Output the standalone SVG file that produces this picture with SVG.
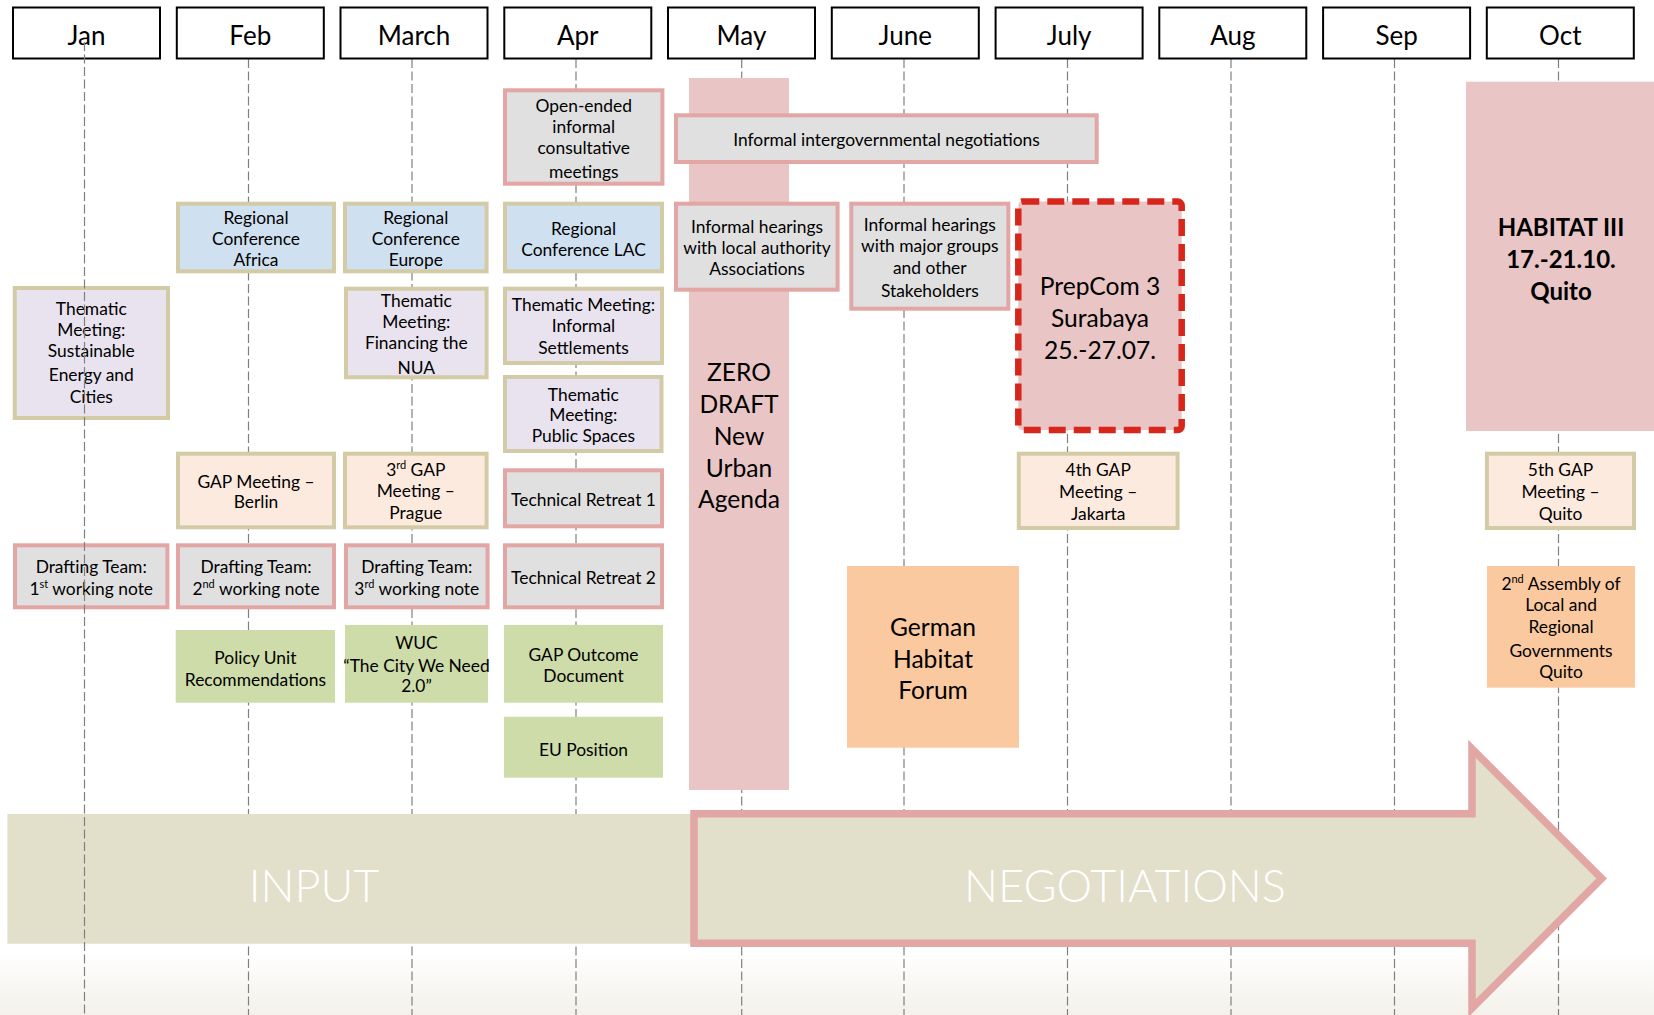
<svg xmlns="http://www.w3.org/2000/svg" width="1654" height="1015" viewBox="0 0 1654 1015">
<defs>
<linearGradient id="bg" x1="0" y1="0" x2="0" y2="1">
<stop offset="0" stop-color="#ffffff"/>
<stop offset="1" stop-color="#f3f1ea"/>
</linearGradient>
<style>
.t{font-family:Lato,"Open Sans","Liberation Sans",sans-serif;fill:#000;text-anchor:middle}
.s{font-size:17.4px}
.m{font-size:24.6px}
.hd{font-size:26px}
.zd{font-size:24.6px}
.big{font-size:45px;font-weight:300;fill:#fff}
.bold{font-weight:bold;font-size:24px}
.sup{font-size:11px}
.hdr{fill:#fff;stroke:#000;stroke-width:2}
.grey{fill:#e0e0e0;stroke:#e2a6a5;stroke-width:4}
.blue{fill:#cfe0f1;stroke:#d3cba5;stroke-width:4}
.lav{fill:#e8e3ee;stroke:#d3cba5;stroke-width:4}
.peach{fill:#fdeade;stroke:#d3cba5;stroke-width:4}
.green{fill:#cddca8}
.orange{fill:#fac9a0}
.pink{fill:#eac5c5}
.grid{stroke:#808080;stroke-width:1.2;stroke-dasharray:9 3.5;fill:none}
</style>
</defs>
<rect x="0" y="0" width="1654" height="1015" fill="#fff"/>
<rect x="0" y="950" width="1654" height="65" fill="url(#bg)"/>

<g id="timeline-lines">
<line class="grid" x1="248.5" y1="59" x2="248.5" y2="1015"/>
<line class="grid" x1="412" y1="59" x2="412" y2="1015"/>
<line class="grid" x1="576" y1="59" x2="576" y2="1015"/>
<line class="grid" x1="741.7" y1="59" x2="741.7" y2="1015"/>
<line class="grid" x1="904" y1="59" x2="904" y2="1015"/>
<line class="grid" x1="1067.5" y1="59" x2="1067.5" y2="1015"/>
<line class="grid" x1="1231" y1="59" x2="1231" y2="1015"/>
<line class="grid" x1="1394.5" y1="59" x2="1394.5" y2="1015"/>
<line class="grid" x1="1558.5" y1="59" x2="1558.5" y2="1015"/>
</g>

<g id="input-band">
<rect x="7.4" y="814" width="690" height="129.7" fill="#e2dfcb"/>
<text class="t big" x="314" y="902">INPUT</text>
</g>
<g id="negotiations-arrow">
<polygon points="694,813.7 1472,813.7 1472,748.8 1601.7,878.5 1472,1008.2 1472,943.3 694,943.3" fill="#e2dfcb" stroke="#e2a6a5" stroke-width="7.5"/>
<text class="t big" x="1125" y="902">NEGOTIATIONS</text>
</g>

<g id="months">
<g id="m-jan"><rect class="hdr" x="13" y="7.5" width="147" height="51"/><text class="t hd" x="86.5" y="44.5">Jan</text></g>
<g id="m-feb"><rect class="hdr" x="176.8" y="7.5" width="147" height="51"/><text class="t hd" x="250.3" y="44.5">Feb</text></g>
<g id="m-mar"><rect class="hdr" x="340.5" y="7.5" width="147" height="51"/><text class="t hd" x="414" y="44.5">March</text></g>
<g id="m-apr"><rect class="hdr" x="504.3" y="7.5" width="147" height="51"/><text class="t hd" x="577.8" y="44.5">Apr</text></g>
<g id="m-may"><rect class="hdr" x="668" y="7.5" width="147" height="51"/><text class="t hd" x="741.5" y="44.5">May</text></g>
<g id="m-jun"><rect class="hdr" x="831.8" y="7.5" width="147" height="51"/><text class="t hd" x="905.3" y="44.5">June</text></g>
<g id="m-jul"><rect class="hdr" x="995.6" y="7.5" width="147" height="51"/><text class="t hd" x="1069.1" y="44.5">July</text></g>
<g id="m-aug"><rect class="hdr" x="1159.3" y="7.5" width="147" height="51"/><text class="t hd" x="1232.8" y="44.5">Aug</text></g>
<g id="m-sep"><rect class="hdr" x="1323.1" y="7.5" width="147" height="51"/><text class="t hd" x="1396.6" y="44.5">Sep</text></g>
<g id="m-oct"><rect class="hdr" x="1486.8" y="7.5" width="147" height="51"/><text class="t hd" x="1560.3" y="44.5">Oct</text></g>
</g>

<g id="zero-draft">
<rect class="pink" x="689" y="78" width="100" height="712"/>
<text class="t zd" x="739" y="381">ZERO</text>
<text class="t zd" x="739" y="412.5">DRAFT</text>
<text class="t zd" x="739" y="444.5">New</text>
<text class="t zd" x="739" y="476.5">Urban</text>
<text class="t zd" x="739" y="508">Agenda</text>
</g>

<g id="open-ended">
<rect class="grey" x="505" y="90.3" width="157.4" height="93.4"/>
<text class="t s" x="583.7" y="111.5">Open-ended</text>
<text class="t s" x="583.7" y="132.6">informal</text>
<text class="t s" x="583.7" y="153.7">consultative</text>
<text class="t s" x="583.7" y="178">meetings</text>
</g>

<g id="intergov">
<rect class="grey" x="676" y="115.3" width="420.7" height="46.7"/>
<text class="t s" x="886.5" y="145.7">Informal intergovernmental negotiations</text>
</g>

<g id="rc-africa">
<rect class="blue" x="178" y="203.7" width="156" height="67.6"/>
<text class="t s" x="256" y="224">Regional</text>
<text class="t s" x="256" y="245">Conference</text>
<text class="t s" x="256" y="266">Africa</text>
</g>
<g id="rc-europe">
<rect class="blue" x="345" y="203.7" width="141.6" height="67.6"/>
<text class="t s" x="415.8" y="224">Regional</text>
<text class="t s" x="415.8" y="245">Conference</text>
<text class="t s" x="415.8" y="266">Europe</text>
</g>
<g id="rc-lac">
<rect class="blue" x="505" y="203.7" width="157" height="67.6"/>
<text class="t s" x="583.5" y="235">Regional</text>
<text class="t s" x="583.5" y="256">Conference LAC</text>
</g>

<g id="hearings-local">
<rect class="grey" x="676" y="203.7" width="161.6" height="86"/>
<text class="t s" x="757" y="233">Informal hearings</text>
<text class="t s" x="757" y="254">with local authority</text>
<text class="t s" x="757" y="274.5">Associations</text>
</g>
<g id="hearings-major">
<rect class="grey" x="851.3" y="203.7" width="157" height="105"/>
<text class="t s" x="929.8" y="230.5">Informal hearings</text>
<text class="t s" x="929.8" y="252">with major groups</text>
<text class="t s" x="929.8" y="273.5">and other</text>
<text class="t s" x="929.8" y="297">Stakeholders</text>
</g>

<g id="prepcom">
<rect x="1018.3" y="201.6" width="163.4" height="228.4" rx="4" fill="#eac5c5" stroke="#d7261b" stroke-width="6.5" stroke-dasharray="17 8"/>
<text class="t m" x="1100" y="295">PrepCom 3</text>
<text class="t m" x="1100" y="327">Surabaya</text>
<text class="t m" x="1100" y="359">25.-27.07.</text>
</g>

<g id="habitat">
<rect class="pink" x="1466" y="81.7" width="190" height="349.3"/>
<text class="t bold" x="1561" y="235.7">HABITAT III</text>
<text class="t bold" x="1561" y="268">17.-21.10.</text>
<text class="t bold" x="1561" y="300">Quito</text>
</g>

<g id="tm-energy">
<rect class="lav" x="14.7" y="288" width="153.3" height="130"/>
<text class="t s" x="91.3" y="315">Thematic</text>
<text class="t s" x="91.3" y="336">Meeting:</text>
<text class="t s" x="91.3" y="357">Sustainable</text>
<text class="t s" x="91.3" y="381">Energy and</text>
<text class="t s" x="91.3" y="403">Cities</text>
</g>
<g id="tm-finance">
<rect class="lav" x="346" y="288.7" width="140.6" height="88.6"/>
<text class="t s" x="416.3" y="307">Thematic</text>
<text class="t s" x="416.3" y="328">Meeting:</text>
<text class="t s" x="416.3" y="349">Financing the</text>
<text class="t s" x="416.3" y="373.5">NUA</text>
</g>
<g id="tm-settlements">
<rect class="lav" x="505" y="288.7" width="157" height="74.3"/>
<text class="t s" x="583.5" y="311">Thematic Meeting:</text>
<text class="t s" x="583.5" y="332">Informal</text>
<text class="t s" x="583.5" y="354">Settlements</text>
</g>
<g id="tm-public">
<rect class="lav" x="505" y="377" width="156.5" height="74"/>
<text class="t s" x="583.3" y="400.5">Thematic</text>
<text class="t s" x="583.3" y="421">Meeting:</text>
<text class="t s" x="583.3" y="442">Public  Spaces</text>
</g>

<g id="gap-berlin">
<rect class="peach" x="178" y="453.7" width="156" height="73.6"/>
<text class="t s" x="256" y="488">GAP Meeting –</text>
<text class="t s" x="256" y="508">Berlin</text>
</g>
<g id="gap-prague">
<rect class="peach" x="345" y="453.7" width="141.6" height="73.6"/>
<text class="t s" x="415.8" y="476">3<tspan class="sup" dy="-7">rd</tspan><tspan dy="7"> GAP</tspan></text>
<text class="t s" x="415.8" y="497">Meeting –</text>
<text class="t s" x="415.8" y="518.5">Prague</text>
</g>
<g id="retreat1">
<rect class="grey" x="505" y="470.3" width="157" height="56"/>
<text class="t s" x="583.5" y="506">Technical Retreat 1</text>
</g>
<g id="gap-jakarta">
<rect class="peach" x="1018.8" y="453.7" width="158.8" height="74.3"/>
<text class="t s" x="1098.2" y="476">4th GAP</text>
<text class="t s" x="1098.2" y="498">Meeting –</text>
<text class="t s" x="1098.2" y="519.5">Jakarta</text>
</g>
<g id="gap-quito">
<rect class="peach" x="1486.9" y="453.7" width="147.1" height="74.3"/>
<text class="t s" x="1560.5" y="476">5th GAP</text>
<text class="t s" x="1560.5" y="498">Meeting –</text>
<text class="t s" x="1560.5" y="519.5">Quito</text>
</g>

<g id="dt-1">
<rect class="grey" x="15" y="545.3" width="152.4" height="62"/>
<text class="t s" x="91.2" y="573">Drafting Team:</text>
<text class="t s" x="91.2" y="594.5">1<tspan class="sup" dy="-7">st</tspan><tspan dy="7"> working note</tspan></text>
</g>
<g id="dt-2">
<rect class="grey" x="178" y="545.3" width="156" height="62"/>
<text class="t s" x="256" y="573">Drafting Team:</text>
<text class="t s" x="256" y="594.5">2<tspan class="sup" dy="-7">nd</tspan><tspan dy="7"> working note</tspan></text>
</g>
<g id="dt-3">
<rect class="grey" x="346" y="545.3" width="141.6" height="62"/>
<text class="t s" x="416.8" y="573">Drafting Team:</text>
<text class="t s" x="416.8" y="594.5">3<tspan class="sup" dy="-7">rd</tspan><tspan dy="7">  working note</tspan></text>
</g>
<g id="retreat2">
<rect class="grey" x="505" y="545.3" width="157" height="62"/>
<text class="t s" x="583.5" y="584">Technical Retreat 2</text>
</g>

<g id="policy-unit">
<rect class="green" x="175.7" y="630" width="159.3" height="72.7"/>
<text class="t s" x="255.4" y="663.5">Policy Unit</text>
<text class="t s" x="255.4" y="685.5">Recommendations</text>
</g>
<g id="wuc">
<rect class="green" x="345" y="625" width="143" height="77.7"/>
<text class="t s" x="416.5" y="649">WUC</text>
<text class="t s" x="416.5" y="672">“The City We Need</text>
<text class="t s" x="416.5" y="692">2.0”</text>
</g>
<g id="gap-outcome">
<rect class="green" x="504" y="625" width="159" height="77.7"/>
<text class="t s" x="583.5" y="661">GAP Outcome</text>
<text class="t s" x="583.5" y="682">Document</text>
</g>
<g id="eu-position">
<rect class="green" x="504" y="716.7" width="159" height="61"/>
<text class="t s" x="583.5" y="755.5">EU Position</text>
</g>

<g id="german-habitat">
<rect class="orange" x="847" y="566" width="172" height="181.7"/>
<text class="t m" x="933" y="636">German</text>
<text class="t m" x="933" y="667.5">Habitat</text>
<text class="t m" x="933" y="699">Forum</text>
</g>

<g id="assembly">
<rect class="orange" x="1487" y="566" width="148" height="121.7"/>
<text class="t s" x="1561" y="589.5">2<tspan class="sup" dy="-7">nd</tspan><tspan dy="7"> Assembly of</tspan></text>
<text class="t s" x="1561" y="611">Local and</text>
<text class="t s" x="1561" y="632.5">Regional</text>
<text class="t s" x="1561" y="656.5">Governments</text>
<text class="t s" x="1561" y="677.5">Quito</text>
</g>

<g id="jan-line">
<line class="grid" x1="84.5" y1="42" x2="84.5" y2="1015"/>
</g>
</svg>
